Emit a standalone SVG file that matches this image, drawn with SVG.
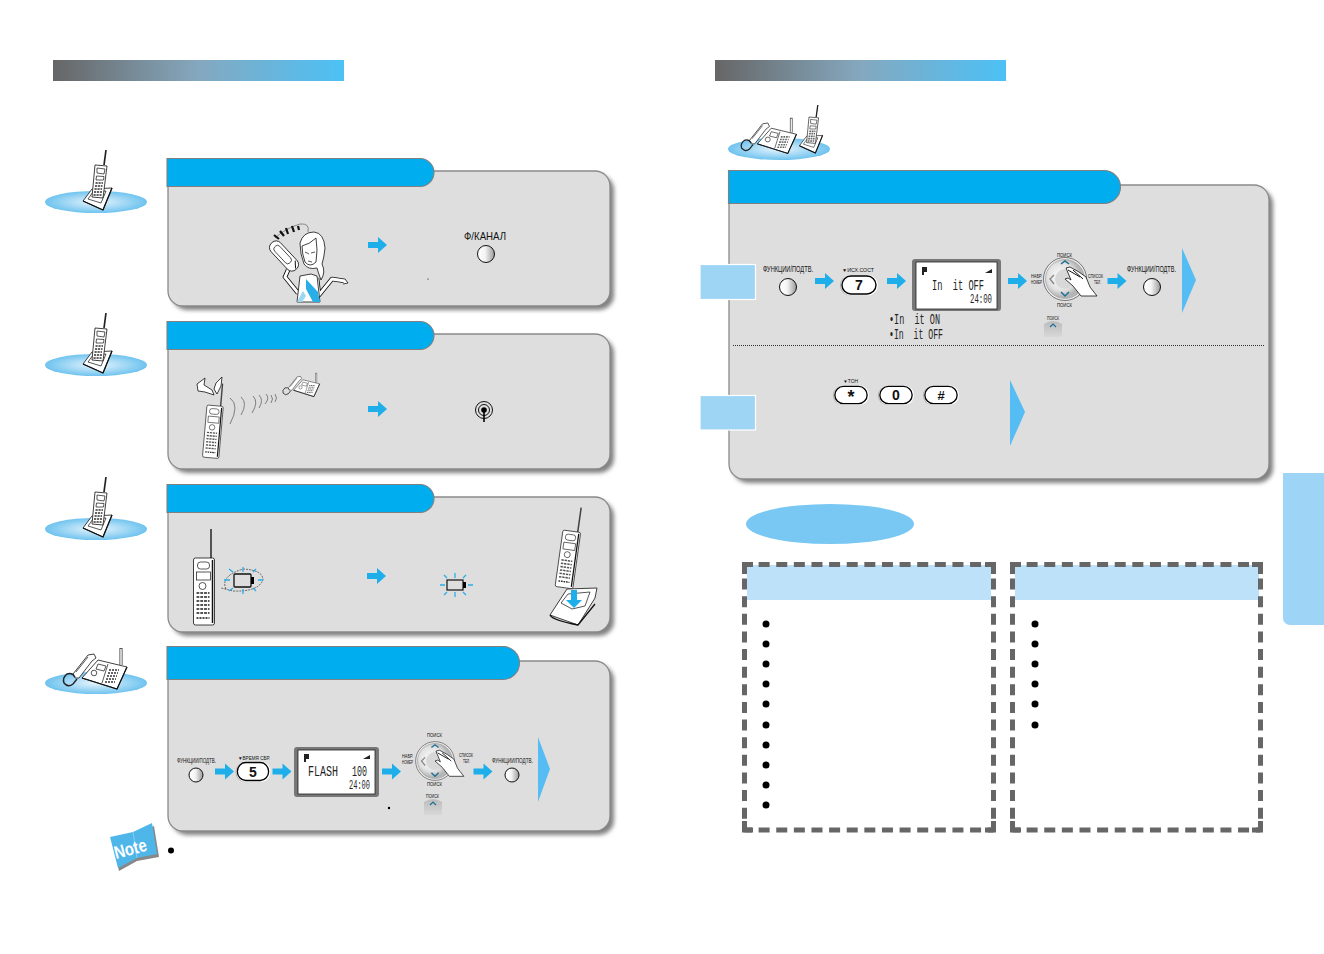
<svg xmlns="http://www.w3.org/2000/svg" width="1324" height="954" viewBox="0 0 1324 954">
<style>
.panel{fill:#dedede;stroke:#8a8a8a;stroke-width:1.3}
.shadow{fill:#808080;filter:url(#blur)}
.tab{fill:#00aeef;stroke:#808080;stroke-width:1.1}
.ink{fill:#fff;stroke:#111;stroke-width:.8;stroke-linejoin:round}
.line{fill:none;stroke:#111;stroke-width:.7}
.blk{fill:#000}
.tri{fill:#55bdf3}
.sq{fill:#9ed5f5;stroke:#fff;stroke-width:1.2}
.dash{fill:none;stroke:#666;stroke-width:5;stroke-dasharray:11 6.62;stroke-dashoffset:3.5}
.corner{fill:none;stroke:#666;stroke-width:5}
.hdr{fill:#bde1f8}
.lab{font-family:"Liberation Sans",Arial,sans-serif;fill:#111;font-size:7px}
.lcd{font-family:"Liberation Mono","DejaVu Sans Mono",monospace;fill:#222;font-size:14px}
.key{font-family:"Liberation Sans",Arial,sans-serif;font-weight:bold;font-size:14px;fill:#111;text-anchor:middle}
.ray{stroke:#29aee8;stroke-width:1.3;fill:none}
</style>
<defs>
<filter id="blur" x="-5%" y="-5%" width="110%" height="110%"><feGaussianBlur stdDeviation="2"/></filter>
<linearGradient id="bar"><stop offset="0" stop-color="#666"/><stop offset=".5" stop-color="#85a8bf"/><stop offset="1" stop-color="#4cc1f6"/></linearGradient>
<radialGradient id="oval"><stop offset="0" stop-color="#e8f5fd"/><stop offset="1" stop-color="#6fc3ef"/></radialGradient>
<linearGradient id="btn"><stop offset="0" stop-color="#fff"/><stop offset=".45" stop-color="#f4f4f4"/><stop offset="1" stop-color="#999"/></linearGradient>
<linearGradient id="sk" x1="0" y1="0" x2="0" y2="1"><stop offset="0" stop-color="#bbb"/><stop offset="1" stop-color="#d8d8d8"/></linearGradient>
<radialGradient id="wh" cx=".4" cy=".45"><stop offset="0" stop-color="#fff"/><stop offset=".7" stop-color="#e2e2e2"/><stop offset="1" stop-color="#b5b5b5"/></radialGradient>
<path id="arr" d="M0-3H10V-8L19 0L10 8V3H0Z" fill="#1eaeea"/>
<path id="pnl" d="M168 171H595a15 15 0 0 1 15 15V291a15 15 0 0 1-15 15H183a15 15 0 0 1-15-15Z"/>
<path id="tabS" d="M167 158.500H420a14 14 0 0 1 0 28H167Z"/>
<g id="handset">
<path d="M17.500 0V-29" stroke="#444" stroke-width="1.800" fill="none"/>
<rect x="0" y="0" width="21" height="67" rx="2" class="ink"/>
<path d="M19 2V65" stroke="#111" stroke-width="1.500"/>
<rect x="4" y="4" width="12" height="7" rx="3" class="line"/>
<rect x="3" y="14" width="14" height="8" class="line"/>
<circle cx="9" cy="28" r="3.500" class="line"/>
<path d="M3 35H16M3 39H16M3 43H16M3 47H16M3 51H16M3 55H16" stroke="#555" stroke-width="1.800" stroke-dasharray="2.800 1" fill="none"/>
<path d="M3 60H16" stroke="#111" stroke-width="1.500" stroke-dasharray="2 1"/>
</g>
<g id="dockIcon">
<path d="M83 201L92 189L112 188L103 210Z" class="ink" stroke-width="1"/>
<path d="M88 199L93 192L106 191L101 203Z" class="line"/>
<path d="M83 201L103 210L112 188" fill="none" stroke="#111" stroke-width="1.300"/>
<path d="M106 150L104 165" stroke="#222" stroke-width="1.700"/>
<path d="M95 165L107 166L103 198L92 197Z" class="ink" stroke-width="1"/>
<path d="M97 168L105 169L104 174L97 173ZM96.500 176L104 176.500L103.500 180H96Z" class="line"/>
<path d="M95.500 183H103M95 186H102.500M94.500 189H102M94 192H102M93.500 195H101.500" stroke="#666" stroke-width="2" stroke-dasharray="2.200 .8"/>
</g>
<g id="faxIcon">
<path d="M121 648V665" stroke="#555" stroke-width="3.200"/><path d="M121 649V665" stroke="#fff" stroke-width="1.400"/>
<path d="M98 660L127 667L117 689L82 678Z" class="ink" stroke-width="1"/>
<path d="M82 678L117 689L127 667" fill="none" stroke="#111" stroke-width="1.200"/>
<path d="M108 664L102 683" class="line"/>
<path d="M109 670H119M108 673H118M107 676H117M106 679H116M105 682H115" stroke="#666" stroke-width="1.800" stroke-dasharray="2 1"/>
<path d="M98 664L106 666L104 671L96 669Z" class="line"/><circle cx="94" cy="673" r="2.800" class="line"/>
<path d="M73 674L88 655L94 654L96 658L92 661L79 678L75 678Z" class="ink" stroke-width="1"/>
<path d="M76 672L88 657" class="line"/>
<path d="M75 677Q72 672 67 674Q62 678 64 683Q68 688 73 684L77 679" fill="none" stroke="#222" stroke-width="1.400"/>
</g>
<g id="wheel">
<circle r="21.500" fill="#eee" stroke="#444" stroke-width=".7"/>
<circle r="19.500" fill="url(#wh)" stroke="#888" stroke-width=".5"/>
<circle r="10" fill="#d8d8d8"/>
<path d="M-4-15L0-18L4-15" fill="none" stroke="#1e6f95" stroke-width="1.500"/>
<path d="M-4 13L0 17L4 13" fill="none" stroke="#1e6f95" stroke-width="1.500"/>
<path d="M-11-4L-15 0L-11 5" fill="none" stroke="#888" stroke-width="1.400"/>
<path d="M1-11L5-12L14-7L21-2L25 8L32 17H16L8 7L0 0L3-1L6 1Z" class="ink" stroke-width=".9"/>
<path d="M3-9L15-2M8-9L18 0" stroke="#111" stroke-width="1"/>
</g>
<g id="miniKey">
<path d="M-9 10V-3Q0-9 9-3V10Z" fill="url(#sk)"/>
<path d="M-3 0L0-3L3 0" fill="none" stroke="#1e6f95" stroke-width="1.200"/>
</g>
<g id="pill">
<rect x="-19" y="-9.500" width="36" height="20" rx="10" fill="#aaa"/>
<rect x="-18" y="-10" width="37" height="20.500" rx="10" fill="#fff"/>
<rect x="-17" y="-9" width="34" height="18" rx="9" fill="#fff" stroke="#000" stroke-width="1.400"/>
</g>
</defs>
<rect width="1324" height="954" fill="#fff"/>

<g id="title-bars">
<rect x="53" y="60" width="291" height="21" fill="url(#bar)"/>
<rect x="715" y="60" width="291" height="21" fill="url(#bar)"/>
</g>

<g id="icon-1"><ellipse cx="96" cy="202" rx="51" ry="11" fill="url(#oval)"/><use href="#dockIcon"/></g>
<g id="icon-2"><ellipse cx="96" cy="365" rx="51" ry="11" fill="url(#oval)"/><use href="#dockIcon" y="163"/></g>
<g id="icon-3"><ellipse cx="96" cy="529" rx="51" ry="11" fill="url(#oval)"/><use href="#dockIcon" y="327"/></g>
<g id="icon-4"><ellipse cx="96" cy="683" rx="51" ry="11" fill="url(#oval)"/><use href="#faxIcon"/></g>

<g id="panel-1">
<use href="#pnl" class="shadow" x="4" y="4"/><use href="#pnl" class="panel"/><use href="#tabS" class="tab"/>
<g id="girl">
<path d="M288 270L285 277L298 293" fill="none" stroke="#111" stroke-width="4.500"/><path d="M288 270L285 277L298 293" fill="none" stroke="#fff" stroke-width="2.800"/>
<path d="M317 278L319 295L332 279L345 281" fill="none" stroke="#111" stroke-width="4.500" stroke-linejoin="round"/><path d="M317 278L319 295L332 279L345 281" fill="none" stroke="#fff" stroke-width="2.800" stroke-linejoin="round"/>
<path d="M345 279L348 283L343 284" class="ink"/>
<path d="M300 276L297 302H320L317 276L311 274Z" class="ink"/>
<path d="M306 279L318 292L320 302H313L306 289Z" fill="#29aee8"/><path d="M298 300L303 291L306 296L302 302H297Z" fill="#9cd6f3"/>
<path d="M300 243Q303 232 314 232Q324 233 325 248Q324 258 322 264Q326 272 321 280Q318 272 317 268Q308 270 304 264Q300 254 300 243Z" class="ink"/>
<path d="M302 246Q310 244 316 238Q318 250 316 262Q310 268 305 262Q302 254 302 246Z" class="ink"/>
<path d="M305 252L309 254M311 253L315 252M308 261L312 262" class="line"/>
<g transform="translate(284 256) rotate(47)"><rect x="-18" y="-6.500" width="36" height="13" rx="6" class="ink" stroke-width="1"/><rect x="-13" y="-3.500" width="22" height="7" rx="3" class="line"/><path d="M11-5L17 0" stroke="#111" stroke-width="1"/></g>
<path d="M275 238Q286 228 300 224Q310 223 308 232" fill="none" stroke="#333" stroke-width=".5"/>
<path d="M274 235L279 239M280 231L284 236M286 228L288 234M292 226L294 232M298 226L299 230" stroke="#111" stroke-width="2.200"/>
</g>
<use href="#arr" x="368" y="245"/>
<text class="lab" x="464" y="240" style="font-size:10.500px" textLength="42" lengthAdjust="spacingAndGlyphs">Ф/КАНАЛ</text>
<circle cx="486" cy="254" r="8.500" fill="url(#btn)" stroke="#111" stroke-width="1"/>
<circle cx="428" cy="279" r=".6" class="blk"/>
</g>

<g id="panel-2">
<use href="#pnl" class="shadow" x="4" y="167"/><use href="#pnl" class="panel" y="163"/><use href="#tabS" class="tab" y="163"/>
<g id="broken-signal">
<path d="M197 384L205 378L204 385L212 390L214 395L205 392L198 391Z" class="ink" stroke-width="1"/>
<path d="M216 383L222 377L221 386L217 394L214 389Z" class="ink" stroke-width="1"/>
</g>
<use href="#handset" transform="translate(207 405) rotate(5) scale(.78)"/>
<path d="M230 398Q240 405 230 424M241 397Q248 403 241 415M253 396Q259 402 252 413M259 395Q264 400 259 408M266 394Q270 398 265 404M271 395Q274 399 271 403M275 394Q278 398 275 402" fill="none" stroke="#666" stroke-width=".8"/>
<use href="#faxIcon" transform="translate(246 -3) scale(.58)"/>
<use href="#arr" x="368" y="409"/>
<g id="signal-icon"><circle cx="484" cy="410" r="8.500" fill="none" stroke="#111"/><circle cx="484" cy="410" r="5.500" fill="none" stroke="#111"/><circle cx="484" cy="410" r="2.800" class="blk"/><path d="M484 410V422" stroke="#000" stroke-width="1.600"/></g>
</g>

<g id="panel-3">
<use href="#pnl" class="shadow" x="4" y="330"/><use href="#pnl" class="panel" y="326"/><use href="#tabS" class="tab" y="326"/>
<use href="#handset" x="193.500" y="558"/>
<g id="battery-low">
<path d="M226 589Q220 576 243 569Q263 570 263 580Q258 592 233 591L221 588" fill="none" stroke="#333" stroke-width=".7" stroke-dasharray="2 1"/>
<rect x="234" y="574" width="17" height="13" rx="1" fill="#dedede" stroke="#111" stroke-width="1.300"/><rect x="251" y="577" width="3" height="7" class="blk"/>
<path class="ray" d="M224 580H230M258 580H263M243 567V572M243 589V594M229 569L233 572M256 569L253 572M229 591L233 588M256 591L253 588"/>
</g>
<use href="#arr" x="367" y="576"/>
<g id="battery-flash">
<rect x="447" y="580" width="16" height="10" fill="#dedede" stroke="#111" stroke-width="1.200"/><rect x="463" y="582" width="3" height="6" class="blk"/>
<path class="ray" d="M440 585H445M468 585H473M455 573V578M455 592V597M444 575L447 578M466 575L463 578M444 595L447 592M466 595L463 592"/>
</g>
<g id="dock-large">
<path d="M550 615L567 589L597 588L595 598L578 625Z" class="ink" stroke-width="1.100"/>
<path d="M550 615Q552 620 578 625L595 604" fill="none" stroke="#111" stroke-width="1.300"/>
<path d="M561 603L568 594L590 592L585 606L572 609Z" class="line"/>
<use href="#handset" transform="translate(563 530) rotate(8) scale(.85)"/>
<path d="M571 590H577V600H582L574 608L566 600H571Z" fill="#1eaeea"/>
</g>
</g>

<g id="panel-4">
<path class="shadow" d="M172 665H599a15 15 0 0 1 15 15V820a15 15 0 0 1-15 15H187a15 15 0 0 1-15-15Z"/>
<path class="panel" d="M168 661H595a15 15 0 0 1 15 15V816a15 15 0 0 1-15 15H183a15 15 0 0 1-15-15Z"/>
<path class="tab" d="M167 646.500H503a16.500 16.500 0 0 1 0 33H167Z"/>
<text class="lab" x="177" y="763" textLength="39" lengthAdjust="spacingAndGlyphs" style="font-size:7.500px">ФУНКЦИИ/ПОДТВ.</text>
<circle cx="196" cy="775" r="7" fill="url(#btn)" stroke="#111"/>
<text class="lab" x="238" y="760" textLength="32" lengthAdjust="spacingAndGlyphs" style="font-size:5px">▼ВРЕМЯ СБР.</text>
<use href="#pill" transform="translate(253 771.500) scale(.92 1)"/>
<text class="key" x="253" y="776.500">5</text>
<g id="lcd-flash">
<rect x="294" y="747" width="85" height="50" rx="3" fill="#777"/><rect x="298" y="750" width="77" height="44" fill="#fff" stroke="#222" stroke-width=".8"/>
<path d="M304 754H309V759H306V762H304Z" fill="#222"/>
<path d="M363 759H370V755Z" fill="#222"/>
<text class="lcd" x="308" y="776" textLength="30" lengthAdjust="spacingAndGlyphs">FLASH</text>
<text class="lcd" x="352" y="776" textLength="15" lengthAdjust="spacingAndGlyphs">100</text>
<text class="lcd" x="349" y="789" textLength="21" lengthAdjust="spacingAndGlyphs" style="font-size:12px">24:00</text>
</g>
<use href="#wheel" transform="translate(435 761) scale(.9)"/>
<text class="lab" x="427" y="737" textLength="15" lengthAdjust="spacingAndGlyphs" style="font-size:5px">ПОИСК</text>
<text class="lab" x="427" y="785.500" textLength="15" lengthAdjust="spacingAndGlyphs" style="font-size:5px">ПОИСК</text>
<text class="lab" x="402" y="758" textLength="11" lengthAdjust="spacingAndGlyphs" style="font-size:5px">НАБР.</text>
<text class="lab" x="402" y="763.500" textLength="11" lengthAdjust="spacingAndGlyphs" style="font-size:5px">НОМЕР</text>
<text class="lab" x="459" y="757" textLength="14" lengthAdjust="spacingAndGlyphs" style="font-size:5px">СПИСОК</text>
<text class="lab" x="463" y="763" textLength="7" lengthAdjust="spacingAndGlyphs" style="font-size:5px">ТЕЛ.</text>
<text class="lab" x="492" y="763" textLength="41" lengthAdjust="spacingAndGlyphs" style="font-size:7.500px">ФУНКЦИИ/ПОДТВ.</text>
<circle cx="512" cy="775" r="7" fill="url(#btn)" stroke="#111"/>
<path class="tri" d="M538 737L550 769L538 802Z"/>
<circle cx="389" cy="808" r="1.200" class="blk"/>
<text class="lab" x="426" y="798" textLength="13" lengthAdjust="spacingAndGlyphs" style="font-size:4.500px">ПОИСК</text>
<use href="#miniKey" x="433" y="805"/>
</g>

<g id="note">
<path d="M112 841L133 834L154 826L159 857L137 861L119 871Z" fill="#888"/>
<path d="M110 837L133 832L152 823L157 854L137 858L118 868Z" fill="#4fb6ea"/>
<path d="M133 832L137 858" stroke="#9bd6f3" stroke-width=".7"/>
<text x="116" y="859" transform="rotate(-15 116 859)" font-family="Liberation Sans, Arial, sans-serif" font-weight="bold" font-size="18" fill="#fff" textLength="33" lengthAdjust="spacingAndGlyphs">Note</text>
</g>
<circle id="note-bullet" cx="171" cy="850.500" r="3" class="blk"/>

<g id="icon-both">
<ellipse cx="779" cy="149" rx="51" ry="11" fill="url(#oval)"/>
<use href="#faxIcon" transform="translate(686 -446) scale(.87)"/>
<use href="#dockIcon" transform="translate(733 -15) scale(.8)"/>
</g>

<g id="panel-main">
<path class="shadow" d="M733 189H1258a15 15 0 0 1 15 15V468a15 15 0 0 1-15 15H748a15 15 0 0 1-15-15Z"/>
<path class="panel" d="M729 185H1254a15 15 0 0 1 15 15V464a15 15 0 0 1-15 15H744a15 15 0 0 1-15-15Z"/>
<path class="tab" d="M728.500 170.500H1104a16.500 16.500 0 0 1 0 33H728.500Z"/>
<path d="M733 345.500H1265" stroke="#333" stroke-width="1" stroke-dasharray="1 1"/>
<rect class="sq" x="700" y="264.500" width="55.500" height="35"/>
<rect class="sq" x="700" y="395.500" width="55.500" height="34.500"/>
<text class="lab" x="763" y="272" textLength="50" lengthAdjust="spacingAndGlyphs" style="font-size:9px">ФУНКЦИИ/ПОДТВ.</text>
<circle cx="788" cy="287" r="8.500" fill="url(#btn)" stroke="#111"/>
<text class="lab" x="842" y="272" textLength="32" lengthAdjust="spacingAndGlyphs" style="font-size:5px">▼ИСХ.СОСТ</text>
<use href="#pill" transform="translate(859 285)"/>
<text class="key" x="859" y="290">7</text>
<g id="lcd-init">
<rect x="912" y="259" width="89" height="52" rx="3" fill="#777"/><rect x="916" y="262" width="81" height="47" fill="#fff" stroke="#222" stroke-width=".8"/>
<path d="M922 267H927V272H924V275H922Z" fill="#222"/>
<path d="M985 273H992V269Z" fill="#222"/>
<text class="lcd" x="932" y="290" xml:space="preserve" textLength="52" lengthAdjust="spacingAndGlyphs">In  it OFF</text>
<text class="lcd" x="970" y="303" textLength="22" lengthAdjust="spacingAndGlyphs" style="font-size:12px">24:00</text>
</g>
<text class="lcd" x="889" y="324" xml:space="preserve" textLength="51" lengthAdjust="spacingAndGlyphs">•In  it ON</text>
<text class="lcd" x="889" y="339" xml:space="preserve" textLength="54" lengthAdjust="spacingAndGlyphs">•In  it OFF</text>
<use href="#wheel" x="1065" y="279"/>
<text class="lab" x="1057" y="257" textLength="15" lengthAdjust="spacingAndGlyphs" style="font-size:5px">ПОИСК</text>
<text class="lab" x="1057" y="307" textLength="15" lengthAdjust="spacingAndGlyphs" style="font-size:5px">ПОИСК</text>
<text class="lab" x="1031" y="278" textLength="11" lengthAdjust="spacingAndGlyphs" style="font-size:5px">НАБР.</text>
<text class="lab" x="1031" y="284" textLength="11" lengthAdjust="spacingAndGlyphs" style="font-size:5px">НОМЕР</text>
<text class="lab" x="1088" y="278" textLength="15" lengthAdjust="spacingAndGlyphs" style="font-size:5px">СПИСОК</text>
<text class="lab" x="1094" y="284" textLength="7" lengthAdjust="spacingAndGlyphs" style="font-size:5px">ТЕЛ.</text>
<text class="lab" x="1127" y="272" textLength="49" lengthAdjust="spacingAndGlyphs" style="font-size:9px">ФУНКЦИИ/ПОДТВ.</text>
<circle cx="1152" cy="287" r="8.500" fill="url(#btn)" stroke="#111"/>
<path class="tri" d="M1182 248L1196 280L1182 313Z"/>
<text class="lab" x="1047" y="320" textLength="12" lengthAdjust="spacingAndGlyphs" style="font-size:4.500px">ПОИСК</text>
<use href="#miniKey" x="1053" y="327"/>
<text class="lab" x="843" y="383" textLength="15" lengthAdjust="spacingAndGlyphs" style="font-size:4.500px">▼ТОН</text>
<use href="#pill" transform="translate(851 395) scale(.95)"/>
<text class="key" x="851" y="403" style="font-size:18px">*</text>
<use href="#pill" transform="translate(896 395) scale(.95)"/>
<text class="key" x="896" y="400">0</text>
<use href="#pill" transform="translate(941 395) scale(.95)"/>
<text class="key" x="941" y="400" style="font-size:13px">#</text>
<path class="tri" d="M1010 380L1025 412L1010 446Z"/>
</g>

<g id="connectors">
<use href="#arr" x="215" y="771.500"/><use href="#arr" x="272.500" y="771.500"/><use href="#arr" x="382" y="771.500"/><use href="#arr" x="473.500" y="771.500"/>
<use href="#arr" x="815" y="281"/><use href="#arr" x="887" y="281"/><use href="#arr" x="1008" y="281"/><use href="#arr" x="1107.500" y="281"/>
</g>

<ellipse id="oval-heading" cx="830" cy="524" rx="84" ry="20" fill="#78c8f3"/>

<g id="box-left">
<rect class="hdr" x="747" y="565" width="244" height="35"/>
<path class="dash" d="M744.500 564.500H993.500"/><path class="dash" d="M744.500 564.500V830"/><path class="dash" d="M993.500 564.500V830"/><path class="dash" d="M744.500 830H993.500"/>
<path class="corner" d="M744.500 574V564.500H753M985 564.500H993.500V574M744.500 821V830H753M985 830H993.500V821"/>
<g class="blk"><circle cx="766" cy="624" r="3.500"/><circle cx="766" cy="644" r="3.500"/><circle cx="766" cy="664" r="3.500"/><circle cx="766" cy="684" r="3.500"/><circle cx="766" cy="704" r="3.500"/><circle cx="766" cy="725" r="3.500"/><circle cx="766" cy="745" r="3.500"/><circle cx="766" cy="765" r="3.500"/><circle cx="766" cy="785" r="3.500"/><circle cx="766" cy="805" r="3.500"/></g>
</g>
<g id="box-right">
<rect class="hdr" x="1015" y="565" width="244" height="35"/>
<path class="dash" d="M1012.500 564.500H1260.500"/><path class="dash" d="M1012.500 564.500V830"/><path class="dash" d="M1260.500 564.500V830"/><path class="dash" d="M1012.500 830H1260.500"/>
<path class="corner" d="M1012.500 574V564.500H1021M1252 564.500H1260.500V574M1012.500 821V830H1021M1252 830H1260.500V821"/>
<g class="blk"><circle cx="1035" cy="624" r="3.500"/><circle cx="1035" cy="644" r="3.500"/><circle cx="1035" cy="664" r="3.500"/><circle cx="1035" cy="684" r="3.500"/><circle cx="1035" cy="704" r="3.500"/><circle cx="1035" cy="725" r="3.500"/></g>
</g>

<path id="side-tab" d="M1283 473H1324V625H1290a7 7 0 0 1-7-7Z" fill="#9ed4f6"/>
</svg>
